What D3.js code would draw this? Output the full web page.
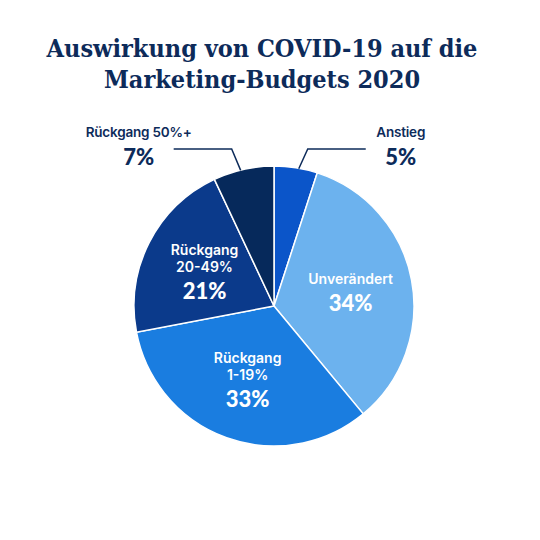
<!DOCTYPE html>
<html>
<head>
<meta charset="utf-8">
<script src="https://cdn.jsdelivr.net/npm/d3@7"></script>
<style>
  body { margin: 0; background: #fff; }
</style>
</head>
<body>
<svg id="chart"></svg>
<script>
const titleLines = ['Auswirkung von COVID-19 auf die', 'Marketing-Budgets 2020'];
const categories = ['Anstieg', 'Unverändert', 'Rückgang 1-19%', 'Rückgang 20-49%', 'Rückgang 50%+'];
const labelLines = [['Anstieg'], ['Unverändert'], ['Rückgang', '1-19%'], ['Rückgang', '20-49%'], ['Rückgang 50%+']];
const values = [5, 34, 33, 21, 7];
const colors = ['#0b55c9', '#6cb2ee', '#1a7de0', '#0b3a8b', '#06295b'];
const outside = [true, false, false, false, true];

const navy = '#0d2b5a';
const svg = d3.select('#chart').attr('width', 540).attr('height', 540);

svg.append('g').selectAll('text')
  .data(titleLines)
  .enter()
  .append('text')
  .attr('x', 262)
  .attr('y', (d, i) => 57 + i * 31)
  .attr('text-anchor', 'middle')
  .attr('font-family', '"DejaVu Serif Condensed", "DejaVu Serif"')
  .attr('font-stretch', 'condensed')
  .attr('font-weight', 'bold')
  .attr('font-size', '25px')
  .attr('fill', navy)
  .text(d => d);

const cx = 274, cy = 306, r = 140;
const data = categories.map((c, i) => ({ cat: c, value: values[i], color: colors[i], lines: labelLines[i], out: outside[i] }));
const pie = d3.pie().value(d => d.value).sort(null);
const arcs = pie(data);
const arc = d3.arc().innerRadius(0).outerRadius(r);
const labelArc = d3.arc().innerRadius(78).outerRadius(78);

const g = svg.append('g').attr('transform', `translate(${cx},${cy})`);
g.selectAll('path')
  .data(arcs)
  .enter()
  .append('path')
  .attr('d', arc)
  .attr('fill', d => d.data.color)
  .attr('stroke', '#fff')
  .attr('stroke-width', 1.5);

// inside labels
const inner = g.selectAll('g.inner')
  .data(arcs.filter(d => !d.data.out))
  .enter()
  .append('g')
  .attr('transform', d => {
    const [x, y] = labelArc.centroid(d);
    return `translate(${x},${y})`;
  });
inner.each(function(d) {
  const sel = d3.select(this);
  const n = d.data.lines.length;
  const top = -(n * 17 + 22) / 2;
  d.data.lines.forEach((t, j) => {
    sel.append('text')
      .attr('y', top + 12 + j * 17)
      .attr('text-anchor', 'middle')
      .attr('font-family', 'Inter')
      .attr('font-weight', 600)
      .attr('font-size', '14px')
      .attr('fill', '#fff')
      .text(t);
  });
  sel.append('text')
    .attr('y', top + n * 17 + 22)
    .attr('text-anchor', 'middle')
    .attr('font-family', 'Lato')
    .attr('font-weight', 900)
    .attr('font-size', '22px')
    .attr('fill', '#fff')
    .text(d.data.value + '%');
});

// outside labels with leader lines
const lineY = 149 - cy;
const outs = arcs.filter(d => d.data.out);
outs.forEach(d => {
  const a = (d.startAngle + d.endAngle) / 2;
  const side = Math.sin(a) > 0 ? 1 : -1;
  const p0 = [Math.sin(a) * (r - 1) + side * 3, -Math.cos(a) * (r - 1)];
  const p1 = [p0[0] + side * 9, lineY];
  const p2 = [p1[0] + side * 58, lineY];
  g.append('path')
    .attr('d', d3.line()([p0, p1, p2]))
    .attr('fill', 'none')
    .attr('stroke', navy)
    .attr('stroke-width', 1.5);
  const tx = p2[0] + side * 35;
  g.append('text')
    .attr('x', tx)
    .attr('y', 137 - cy)
    .attr('text-anchor', 'middle')
    .attr('font-family', 'Inter')
    .attr('font-weight', 600)
    .attr('font-size', '13.5px')
    .attr('letter-spacing', '-0.2px')
    .attr('fill', navy)
    .text(d.data.lines[0]);
  g.append('text')
    .attr('x', tx)
    .attr('y', 165 - cy)
    .attr('text-anchor', 'middle')
    .attr('font-family', 'Lato')
    .attr('font-weight', 900)
    .attr('font-size', '22px')
    .attr('fill', navy)
    .text(d.data.value + '%');
});
</script>
</body>
</html>
